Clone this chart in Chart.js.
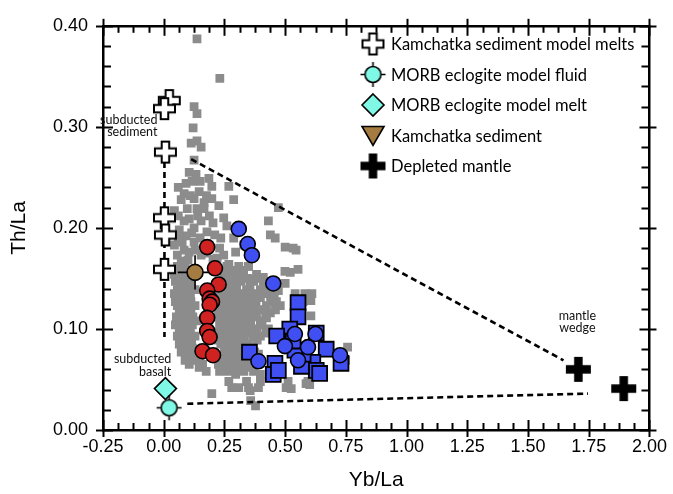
<!DOCTYPE html>
<html>
<head>
<meta charset="utf-8">
<script src="https://cdn.jsdelivr.net/npm/chart.js@4/dist/chart.umd.min.js"></script>
<style>
  html, body { margin: 0; padding: 0; background: #fff; }
  #wrap { width: 673px; height: 494px; }
</style>
</head>
<body>
<div id="wrap"><canvas id="c" width="673" height="494"></canvas></div>
<script>
// ---- Data: Th/La versus Yb/La ----

// Kamchatka arc lavas (grey squares), [Yb/La, Th/La]
const arcLavas = [
  [0.137,0.387],[0.231,0.348],[0.125,0.320],[0.137,0.313],[0.121,0.299],[0.113,0.284],[0.137,0.286],[0.154,0.280],[0.125,0.267],
  [0.105,0.255],[0.133,0.253],[0.186,0.249],[0.117,0.246],[0.268,0.241],[0.198,0.241],[0.084,0.234],[0.072,0.228],[0.125,0.229],
  [0.198,0.229],[0.288,0.228],[0.166,0.225],[0.097,0.219],[0.137,0.219],[0.166,0.219],[0.472,0.220],[0.247,0.210],[0.105,0.209],
  [0.154,0.207],[0.203,0.205],[0.431,0.207],[0.064,0.198],[0.125,0.200],[0.178,0.196],[0.439,0.193],[0.459,0.190],[0.235,0.190],
  [0.288,0.190],[0.076,0.186],[0.125,0.186],[0.500,0.181],[0.105,0.176],[0.296,0.176],[0.247,0.173],[0.154,0.173],[0.072,0.167],
  [0.533,0.180],[0.545,0.178],[0.553,0.159],[0.521,0.156],[0.500,0.145],[0.610,0.135],[0.541,0.135],
  [0.044,0.217],[0.084,0.207],[0.146,0.236],[0.227,0.222],[0.260,0.202],[0.084,0.178],[0.186,0.183],[0.329,0.183],[0.203,0.169],
  [0.268,0.164],[0.349,0.162],[0.410,0.151],[0.370,0.149],[0.044,0.183],[0.056,0.173],
  [0.060,0.240],[0.092,0.244],[0.150,0.246],[0.176,0.232],[0.110,0.232],[0.060,0.212],[0.140,0.212],[0.188,0.212],[0.115,0.195],
  [0.150,0.190],[0.210,0.193],[0.092,0.192],[0.060,0.190],[0.130,0.178],[0.175,0.175],[0.230,0.180],[0.220,0.170],[0.100,0.168],
  [0.056,0.162],[0.088,0.162],[0.260,0.162],[0.309,0.162],[0.349,0.162],
  [0.064,0.158],[0.100,0.158],[0.240,0.158],[0.280,0.158],[0.320,0.158],
  [0.044,0.154],[0.076,0.154],[0.129,0.154],[0.247,0.154],[0.288,0.154],[0.329,0.154],[0.382,0.154],
  [0.060,0.150],[0.092,0.150],[0.112,0.150],[0.262,0.150],[0.300,0.150],[0.345,0.150],[0.395,0.150],
  [0.048,0.147],[0.080,0.147],[0.235,0.147],[0.276,0.147],[0.317,0.147],[0.370,0.147],[0.410,0.147],
  [0.068,0.143],[0.100,0.143],[0.112,0.143],[0.255,0.143],[0.300,0.143],[0.355,0.143],[0.420,0.143],
  [0.056,0.139],[0.088,0.139],[0.129,0.139],[0.247,0.139],[0.288,0.139],[0.341,0.139],[0.398,0.139],[0.439,0.139],
  [0.044,0.135],[0.076,0.135],[0.110,0.135],[0.225,0.135],[0.260,0.135],[0.300,0.135],[0.330,0.135],[0.375,0.135],[0.420,0.135],
  [0.064,0.131],[0.097,0.131],[0.235,0.131],[0.268,0.131],[0.309,0.131],[0.358,0.131],[0.398,0.131],[0.455,0.131],
  [0.048,0.127],[0.080,0.127],[0.112,0.127],[0.225,0.127],[0.255,0.127],[0.295,0.127],[0.340,0.127],[0.380,0.127],[0.440,0.127],
  [0.056,0.123],[0.088,0.123],[0.129,0.123],[0.243,0.123],[0.284,0.123],[0.325,0.123],[0.374,0.123],[0.423,0.123],[0.480,0.123],
  [0.072,0.119],[0.112,0.119],[0.225,0.119],[0.255,0.119],[0.295,0.119],[0.335,0.119],[0.365,0.119],[0.410,0.119],[0.460,0.119],
  [0.064,0.116],[0.105,0.116],[0.235,0.116],[0.268,0.116],[0.309,0.116],[0.349,0.116],[0.382,0.116],[0.439,0.116],
  [0.052,0.112],[0.088,0.112],[0.120,0.112],[0.225,0.112],[0.262,0.112],[0.300,0.112],[0.340,0.112],[0.375,0.112],[0.420,0.112],
  [0.072,0.108],[0.105,0.108],[0.137,0.108],[0.243,0.108],[0.284,0.108],[0.325,0.108],[0.358,0.108],[0.398,0.108],
  [0.048,0.104],[0.084,0.104],[0.118,0.104],[0.230,0.104],[0.268,0.104],[0.310,0.104],[0.350,0.104],[0.405,0.104],
  [0.064,0.100],[0.097,0.100],[0.252,0.100],[0.292,0.100],[0.333,0.100],[0.382,0.100],[0.431,0.100],
  [0.076,0.096],[0.110,0.096],[0.228,0.096],[0.262,0.096],[0.300,0.096],[0.345,0.096],[0.380,0.096],[0.420,0.096],
  [0.056,0.093],[0.088,0.093],[0.129,0.093],[0.243,0.093],[0.276,0.093],[0.317,0.093],[0.366,0.093],[0.398,0.093],
  [0.072,0.089],[0.115,0.089],[0.225,0.089],[0.255,0.089],[0.292,0.089],[0.330,0.089],[0.385,0.089],
  [0.064,0.085],[0.105,0.085],[0.235,0.085],[0.268,0.085],[0.309,0.085],[0.349,0.085],
  [0.085,0.081],[0.118,0.081],[0.250,0.081],[0.285,0.081],[0.320,0.081],[0.360,0.081],
  [0.072,0.077],[0.097,0.077],[0.129,0.077],[0.260,0.077],[0.300,0.077],[0.333,0.077],[0.374,0.077],
  [0.110,0.073],[0.150,0.073],[0.240,0.073],[0.275,0.073],[0.315,0.073],[0.355,0.073],
  [0.088,0.069],[0.129,0.069],[0.252,0.069],[0.292,0.069],[0.341,0.069],[0.382,0.069],
  [0.105,0.065],[0.160,0.065],[0.225,0.065],[0.270,0.065],[0.320,0.065],[0.365,0.065],
  [0.146,0.062],[0.247,0.062],[0.296,0.062],[0.349,0.062],
  [0.175,0.058],[0.230,0.058],[0.265,0.058],[0.330,0.058],[0.370,0.058],
  [0.296,0.055],[0.398,0.055],
  [0.268,0.048],[0.341,0.048],[0.398,0.048],[0.512,0.048],[0.594,0.048],
  [0.280,0.042],[0.349,0.042],[0.390,0.042],[0.504,0.042],
  [0.198,0.036],[0.358,0.029],[0.378,0.024],
  [0.643,0.053],[0.757,0.082],[0.749,0.069],[0.574,0.127],[0.464,0.127],[0.423,0.111],[0.390,0.075],[0.417,0.147],
  [0.499,0.157],[0.423,0.135],[0.472,0.138],[0.581,0.135],[0.606,0.128],[0.606,0.113],[0.601,0.045],[0.525,0.041],
  [0.356,0.039],[0.309,0.042],[0.586,0.046],[0.635,0.053]
];

// Lavas shown as red circles
const redLavas = [
  [0.179,0.181],[0.211,0.160],[0.226,0.144],[0.179,0.138],[0.189,0.130],[0.199,0.127],[0.189,0.124],
  [0.179,0.111],[0.179,0.098],[0.189,0.092],[0.160,0.078],[0.203,0.074]
];

// Lavas shown as blue circles
const blueCircles = [
  [0.309,0.199],[0.346,0.184],[0.363,0.173],[0.451,0.145],
  [0.540,0.095],[0.625,0.095],[0.499,0.083],[0.594,0.082],[0.726,0.074],[0.390,0.068],[0.553,0.069]
];

// Lavas shown as blue squares
const blueSquares = [
  [0.553,0.126],[0.553,0.112],[0.519,0.100],[0.465,0.093],[0.628,0.096],[0.669,0.080],[0.458,0.066],
  [0.451,0.055],[0.614,0.067],[0.628,0.059],[0.730,0.066],[0.567,0.063],[0.642,0.056],[0.472,0.059],
  [0.574,0.075],[0.540,0.079],[0.533,0.088],[0.353,0.077]
];

// End-members
const sedimentMelts = [[0.023,0.326],[0.003,0.318],[0.007,0.275],[0.003,0.210],[0.007,0.193],[0.003,0.159]];
const eclogiteFluid = [[0.022,0.022]];
const eclogiteMelt = [[0.007,0.041]];
const kamSediment = [[0.129,0.156]];
const kamSedimentErr = [0.071, 0.017];   // ± Yb/La, ± Th/La
const depletedMantle = [[1.707,0.060],[1.894,0.041]];

// Mixing trends
const sedimentTrend = [[0.003,0.275],[0.003,0.092]];
const upperMixLine = [[0.113,0.268],[1.646,0.069]];
const lowerMixLine = [[0.097,0.026],[1.747,0.036]];

// Axis ticks
const xTicks = [-0.25, 0, 0.25, 0.5, 0.75, 1, 1.25, 1.5, 1.75, 2];
const yTicks = [0, 0.1, 0.2, 0.3, 0.4];
const xMinorPerMajor = 4;
const yMinorPerMajor = 5;

const legendItems = [
  'Kamchatka sediment model melts',
  'MORB eclogite model fluid',
  'MORB eclogite model melt',
  'Kamchatka sediment',
  'Depleted mantle'
];

const notes = [
  { lines: ['subducted', 'sediment'], x: -0.026, y: 0.307, align: 'right' },
  { lines: ['subducted', 'basalt'], x: 0.031, y: 0.070, align: 'right' },
  { lines: ['mantle', 'wedge'], x: 1.703, y: 0.113, align: 'center' }
];

// ---- Colours ----
const GREY = '#8c8c8c';
const RED = '#d12222';
const BLUE = '#3f4ff2';
const CYAN = '#80f8e6';
const BROWN = '#a47b40';

const NOTE_FONT = '12.5px Lato';
const LEGEND_FONT = '16.5px Lato';

// ---- Marker glyphs ----
function plusGlyph(size, arm, fill, stroke, lw) {
  const pad = Math.ceil(lw) + 1;
  const c = document.createElement('canvas');
  c.width = c.height = size + pad * 2;
  const g = c.getContext('2d');
  const m = c.width / 2, h = size / 2, a = arm / 2;
  g.beginPath();
  g.moveTo(m - a, m - h); g.lineTo(m + a, m - h); g.lineTo(m + a, m - a);
  g.lineTo(m + h, m - a); g.lineTo(m + h, m + a); g.lineTo(m + a, m + a);
  g.lineTo(m + a, m + h); g.lineTo(m - a, m + h); g.lineTo(m - a, m + a);
  g.lineTo(m - h, m + a); g.lineTo(m - h, m - a); g.lineTo(m - a, m - a);
  g.closePath();
  g.fillStyle = fill; g.fill();
  if (lw > 0) { g.lineWidth = lw; g.strokeStyle = stroke; g.lineJoin = 'miter'; g.stroke(); }
  return c;
}

function tickedCircleGlyph(r, tick, fill) {
  const c = document.createElement('canvas');
  const s = Math.ceil((r + tick) * 2 + 4);
  c.width = c.height = s;
  const g = c.getContext('2d');
  const m = s / 2;
  g.lineWidth = 1.6; g.strokeStyle = '#000';
  g.beginPath();
  g.moveTo(m - r - tick, m); g.lineTo(m + r + tick, m);
  g.moveTo(m, m - r - tick); g.lineTo(m, m + r + tick);
  g.stroke();
  g.beginPath(); g.arc(m, m, r, 0, Math.PI * 2);
  g.fillStyle = fill; g.fill(); g.stroke();
  return c;
}

const openCross = plusGlyph(21, 7.5, '#fff', '#000', 2);
const solidCross = plusGlyph(25, 8.5, '#000', '#000', 0);
const fluidGlyph = tickedCircleGlyph(8, 4.5, CYAN);

const pts = arr => arr.map(p => ({ x: p[0], y: p[1] }));

// ---- Plugins ----
const errorBars = {
  id: 'errorBars',
  beforeDatasetDraw(chart, args) {
    if (chart.data.datasets[args.index].label !== 'Kamchatka sediment') return;
    const { ctx, scales: { x, y } } = chart;
    const [ex, ey] = kamSedimentErr;
    ctx.save();
    ctx.strokeStyle = '#000'; ctx.lineWidth = 1.6;
    kamSediment.forEach(([vx, vy]) => {
      ctx.beginPath();
      ctx.moveTo(x.getPixelForValue(vx - ex), y.getPixelForValue(vy));
      ctx.lineTo(x.getPixelForValue(vx + ex), y.getPixelForValue(vy));
      ctx.moveTo(x.getPixelForValue(vx), y.getPixelForValue(vy - ey));
      ctx.lineTo(x.getPixelForValue(vx), y.getPixelForValue(vy + ey));
      ctx.stroke();
    });
    ctx.restore();
  }
};

const tickMarks = {
  id: 'tickMarks',
  afterDraw(chart) {
    const { ctx, chartArea: a, scales: { x, y } } = chart;
    ctx.save();
    ctx.strokeStyle = '#000'; ctx.lineWidth = 2;
    const seg = (x1, y1, x2, y2) => { ctx.beginPath(); ctx.moveTo(x1, y1); ctx.lineTo(x2, y2); ctx.stroke(); };
    const xStep = (xTicks[1] - xTicks[0]) / xMinorPerMajor;
    const nx = Math.round((xTicks[xTicks.length - 1] - xTicks[0]) / xStep);
    for (let i = 0; i <= nx; i++) {
      const px = Math.round(x.getPixelForValue(xTicks[0] + i * xStep)) + 0.5;
      const major = i % xMinorPerMajor === 0;
      const inL = major ? 10 : 7, outL = major ? 7 : 0;
      seg(px, a.bottom + outL, px, a.bottom - inL);
      seg(px, a.top - outL, px, a.top + inL);
    }
    const yStep = (yTicks[1] - yTicks[0]) / yMinorPerMajor;
    const ny = Math.round((yTicks[yTicks.length - 1] - yTicks[0]) / yStep);
    for (let i = 0; i <= ny; i++) {
      const py = Math.round(y.getPixelForValue(yTicks[0] + i * yStep)) + 0.5;
      const major = i % yMinorPerMajor === 0;
      const inL = major ? 10 : 8, outL = major ? 7 : 0;
      seg(a.left - outL, py, a.left + inL, py);
      seg(a.right + outL, py, a.right - inL, py);
    }
    ctx.restore();
  }
};

const notesAndLegend = {
  id: 'notesAndLegend',
  afterDraw(chart) {
    const { ctx, scales: { x, y } } = chart;
    ctx.save();
    ctx.fillStyle = '#111';
    ctx.font = NOTE_FONT;
    ctx.textBaseline = 'middle';
    notes.forEach(n => {
      ctx.textAlign = n.align;
      const px = x.getPixelForValue(n.x), py = y.getPixelForValue(n.y);
      n.lines.forEach((t, i) => ctx.fillText(t, px, py + i * 12.5));
    });

    // legend box, top-right inside the plot
    const iconX = 373, textX = 391, top = 44, gap = 30.5;
    ctx.font = LEGEND_FONT;
    ctx.textAlign = 'left';
    ctx.fillStyle = '#000';
    legendItems.forEach((label, i) => {
      const cy = top + i * gap;
      ctx.save();
      if (i === 0) {
        ctx.drawImage(openCross, iconX - openCross.width / 2, cy - openCross.height / 2);
      } else if (i === 1) {
        ctx.drawImage(fluidGlyph, iconX - fluidGlyph.width / 2, cy - fluidGlyph.height / 2);
      } else if (i === 2) {
        ctx.beginPath();
        ctx.moveTo(iconX, cy - 11); ctx.lineTo(iconX + 11, cy); ctx.lineTo(iconX, cy + 11); ctx.lineTo(iconX - 11, cy);
        ctx.closePath();
        ctx.fillStyle = CYAN; ctx.fill(); ctx.lineWidth = 1.6; ctx.strokeStyle = '#000'; ctx.stroke();
      } else if (i === 3) {
        ctx.beginPath();
        ctx.moveTo(iconX - 11, cy - 9); ctx.lineTo(iconX + 11, cy - 9); ctx.lineTo(iconX, cy + 10);
        ctx.closePath();
        ctx.fillStyle = BROWN; ctx.fill(); ctx.lineWidth = 1.6; ctx.strokeStyle = '#000'; ctx.stroke();
      } else {
        ctx.drawImage(solidCross, iconX - solidCross.width / 2, cy - solidCross.height / 2);
      }
      ctx.restore();
      ctx.fillText(label, textX, cy + 1);
    });
    ctx.restore();
  }
};

// ---- Chart ----
const lineDs = (data, order) => ({
  type: 'line', data: pts(data), showLine: true, fill: false,
  borderColor: '#000', borderWidth: 2.6, borderDash: [6, 4], pointRadius: 0, order
});

new Chart(document.getElementById('c'), {
  type: 'scatter',
  data: {
    datasets: [
      { label: 'Kamchatka lavas', data: pts(arcLavas), pointStyle: 'rect', pointRadius: 6.2,
        backgroundColor: GREY, borderWidth: 0, order: 10 },
      lineDs(sedimentTrend, 9),
      lineDs(upperMixLine, 9),
      lineDs(lowerMixLine, 9),
      { label: 'Kamchatka sediment', data: pts(kamSediment), pointStyle: 'circle', pointRadius: 8,
        backgroundColor: BROWN, borderColor: '#000', borderWidth: 1.6, order: 8 },
      { label: 'Red lavas', data: pts(redLavas), pointStyle: 'circle', pointRadius: 7.5,
        backgroundColor: RED, borderColor: '#000', borderWidth: 1.6, order: 7 },
      { label: 'Blue squares', data: pts(blueSquares), pointStyle: 'rect', pointRadius: 10.5,
        backgroundColor: BLUE, borderColor: '#000', borderWidth: 1.8, order: 6 },
      { label: 'Blue circles', data: pts(blueCircles), pointStyle: 'circle', pointRadius: 7.5,
        backgroundColor: BLUE, borderColor: '#000', borderWidth: 1.6, order: 5 },
      { label: 'Kamchatka sediment model melts', data: pts(sedimentMelts), pointStyle: openCross, order: 4 },
      { label: 'MORB eclogite model fluid', data: pts(eclogiteFluid), pointStyle: fluidGlyph, order: 3 },
      { label: 'MORB eclogite model melt', data: pts(eclogiteMelt), pointStyle: 'rectRot', pointRadius: 11,
        backgroundColor: CYAN, borderColor: '#000', borderWidth: 1.6, order: 3 },
      { label: 'Depleted mantle', data: pts(depletedMantle), pointStyle: solidCross, order: 2 }
    ]
  },
  options: {
    responsive: false,
    animation: false,
    events: [],
    layout: { padding: 0 },
    plugins: { legend: { display: false }, tooltip: { enabled: false } },
    scales: {
      x: {
        type: 'linear', position: 'bottom', min: xTicks[0], max: xTicks[xTicks.length - 1],
        afterBuildTicks: s => { s.ticks = xTicks.map(v => ({ value: v })); },
        afterFit: s => { s.height = 64; },
        grid: { display: false, drawTicks: false },
        border: { display: true, color: '#000', width: 2.5 },
        ticks: { padding: 6, color: '#000', font: { family: 'Liberation Sans', size: 18 },
                 callback: v => v.toFixed(2), maxRotation: 0, autoSkip: false },
        title: { display: true, text: 'Yb/La', color: '#000', padding: { top: 0, bottom: 1 },
                 font: { family: 'Liberation Sans', size: 21 } }
      },
      xTop: {
        type: 'linear', position: 'top', min: xTicks[0], max: xTicks[xTicks.length - 1],
        afterFit: s => { s.height = 16; },
        grid: { display: false, drawTicks: false },
        border: { display: true, color: '#000', width: 2.5 },
        ticks: { display: false }
      },
      y: {
        type: 'linear', position: 'left', min: yTicks[0], max: yTicks[yTicks.length - 1],
        afterBuildTicks: s => { s.ticks = yTicks.map(v => ({ value: v })); },
        afterFit: s => { s.width = 103; },
        grid: { display: false, drawTicks: false },
        border: { display: true, color: '#000', width: 2.5 },
        ticks: { padding: 15, color: '#000', font: { family: 'Liberation Sans', size: 18 },
                 callback: v => v.toFixed(2), autoSkip: false },
        title: { display: true, text: 'Th/La', color: '#000', padding: { top: 7, bottom: 0 },
                 font: { family: 'Liberation Sans', size: 21 } }
      },
      yRight: {
        type: 'linear', position: 'right', min: yTicks[0], max: yTicks[yTicks.length - 1],
        afterFit: s => { s.width = 18; },
        grid: { display: false, drawTicks: false },
        border: { display: true, color: '#000', width: 2.5 },
        ticks: { display: false }
      }
    }
  },
  plugins: [errorBars, tickMarks, notesAndLegend]
});
</script>
</body>
</html>
